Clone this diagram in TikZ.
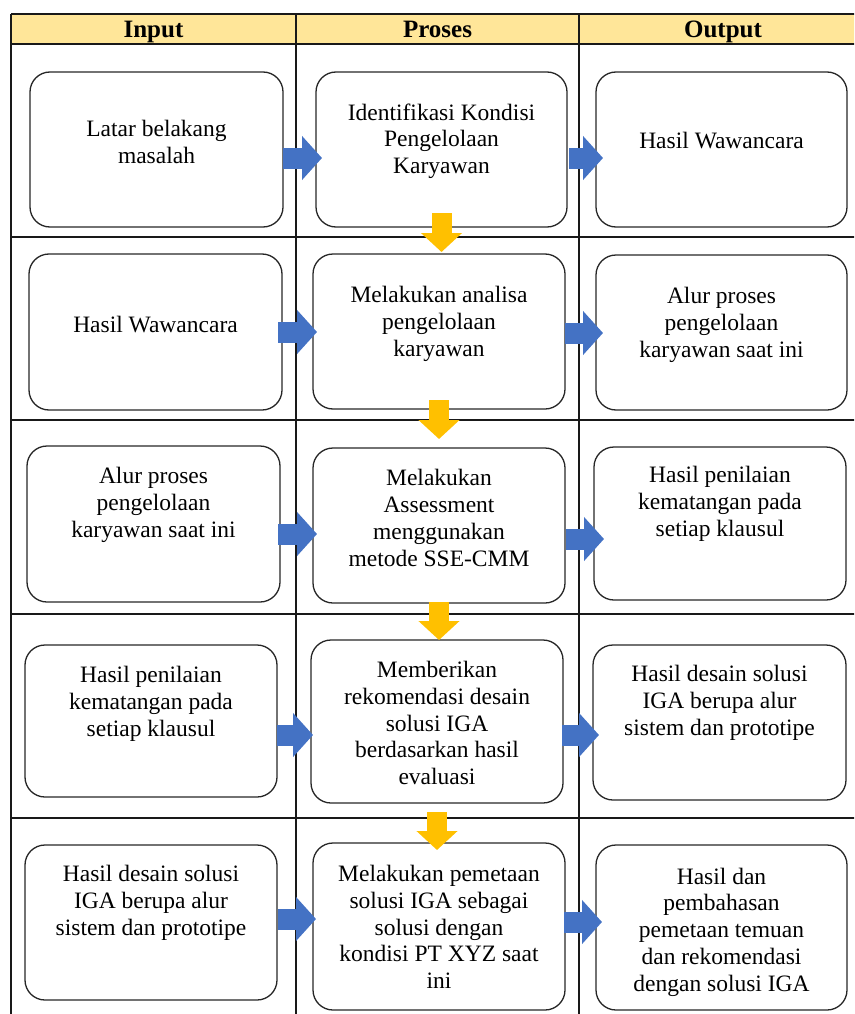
\documentclass[tikz,border=0pt]{standalone}
\usepackage{fontspec}
\setmainfont{Liberation Serif}
\usetikzlibrary{calc, arrows.meta, positioning}

\definecolor{headYellow}{HTML}{FFE699}
\definecolor{arrBlue}{HTML}{4472C4}
\definecolor{arrGold}{HTML}{FFC000}

\tikzset{
    box/.style={draw=black!85, line width=1.3pt, rounded corners=20pt, inner sep=0pt, outer sep=0pt},
    txt/.style={align=center, inner sep=0pt, font=\fontsize{23.5}{26.7}\selectfont},
    hdr/.style={inner sep=0pt, anchor=base, font=\fontsize{25}{28}\selectfont\bfseries},
    gridline/.style={line width=1.3pt, black!90},
    blueArr/.style={arrBlue, line width=21pt, -{Triangle[length=20pt, width=43pt]}},
    goldArr/.style={arrGold, line width=20pt, -{Triangle[length=19pt, width=40pt]}}
}

% name, left, top, right, bottom, text y, text
\newcommand{\stepBox}[7]{%
    \node[box, minimum width=#4pt-#2pt, minimum height=#5pt-#3pt] (#1) at ({(#2+#4)/2},{(#3+#5)/2}) {};
    \node[txt] (#1-t) at ({(#2+#4)/2},#6) {#7};
}

\begin{document}
\begin{tikzpicture}[x=1pt, y=-1pt]
\useasboundingbox (0,0) rectangle (854,1014);
\clip (0,0) rectangle (854,1014);

% table
\fill[headYellow] (11,14) rectangle (867,44);
\foreach \y in {14,44,237,420,614,818}
{
    \draw[gridline] (11,\y) -- (867,\y);
};
\foreach \x in {11,296,579,867}
{
    \draw[gridline] (\x,14) -- (\x,1030);
};

\node[hdr] (hIn) at (153.5,38) {Input};
\node[hdr] (hPr) at (437.5,38) {Proses};
\node[hdr] (hOu) at (723,38) {Output};

% boxes
\stepBox{in1}{30}{72}{283}{227}{142}{Latar belakang\\masalah}
\stepBox{pr1}{316}{72}{567}{227}{141}{Identifikasi Kondisi\\Pengelolaan\\Karyawan}
\stepBox{ou1}{596}{72}{847}{227}{141}{Hasil Wawancara}
\stepBox{in2}{29}{254}{282}{410}{325}{Hasil Wawancara}
\stepBox{pr2}{313}{254}{565}{409}{324}{Melakukan analisa\\pengelolaan\\karyawan}
\stepBox{ou2}{596}{255}{847}{410}{325}{Alur proses\\pengelolaan\\karyawan saat ini}
\stepBox{in3}{27}{446}{280}{602}{505}{Alur proses\\pengelolaan\\karyawan saat ini}
\stepBox{pr3}{313}{448}{565}{603}{518}{Melakukan\\Assessment\\menggunakan\\metode SSE-CMM}
\stepBox{ou3}{594}{447}{846}{600}{504}{Hasil penilaian\\kematangan pada\\setiap klausul}
\stepBox{in4}{25}{645}{277}{797}{704}{Hasil penilaian\\kematangan pada\\setiap klausul}
\stepBox{pr4}{311}{640}{563}{803}{723}{Memberikan\\rekomendasi desain\\solusi IGA\\berdasarkan hasil\\evaluasi}
\stepBox{ou4}{593}{645}{846}{800}{703}{Hasil desain solusi\\IGA berupa alur\\sistem dan prototipe}
\stepBox{in5}{25}{845}{277}{1000}{903}{Hasil desain solusi\\IGA berupa alur\\sistem dan prototipe}
\stepBox{pr5}{313}{843}{565}{1010}{927}{Melakukan pemetaan\\solusi IGA sebagai\\solusi dengan\\kondisi PT XYZ saat\\ini}
\stepBox{ou5}{596}{845}{847}{1010}{932}{Hasil dan\\pembahasan\\pemetaan temuan\\dan rekomendasi\\dengan solusi IGA}

% blue arrows input -> proses -> output
\foreach \a/\b/\y/\s/\e in
{   in1/pr1/158/0/-6,
    pr1/ou1/158/2/-7,
    in2/pr2/332/-4/-4,
    pr2/ou2/333/0/-7,
    in3/pr3/534/-2/-4,
    pr3/ou3/539/1/-10,
    in4/pr4/735/0/-2,
    pr4/ou4/735/-1/-6,
    in5/pr5/919/1/-3,
    pr5/ou5/922/-1/-6
}
{
    \draw[blueArr, shorten <=\s pt, shorten >=\e pt] (\a.east |- 0,\y) -- (\b.west |- 0,\y);
};

% gold arrows down the proses column
\foreach \a/\b/\s/\e in
{   pr1/pr2/-14/2,
    pr2/pr3/-9/9,
    pr3/pr4/-1/0,
    pr4/pr5/9/-7
}
{
    \draw[goldArr, shorten <=\s pt, shorten >=\e pt] (\a.south) -- (\a.south |- \b.north);
};

\end{tikzpicture}
\end{document}
